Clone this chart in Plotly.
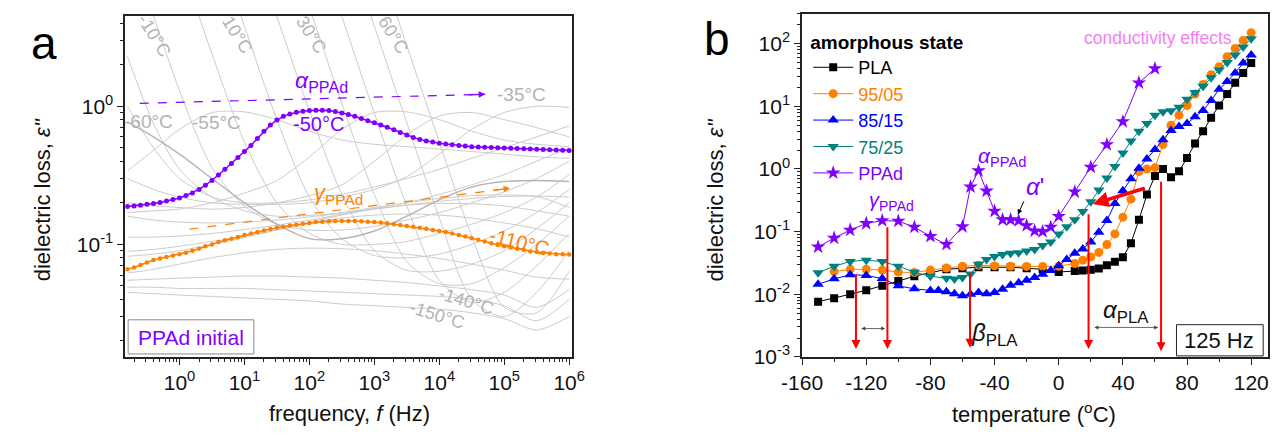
import math
import plotly.graph_objects as go

# ---------------- panel a data ----------------
freq = [0.158, 0.2, 0.251, 0.316, 0.398, 0.501, 0.631, 0.794,
        1, 1.26, 1.58, 2, 2.51, 3.16, 3.98, 5.01, 6.31, 7.94,
        10, 12.6, 15.8, 20, 25.1, 31.6, 39.8, 50.1, 63.1, 79.4,
        100, 126, 158, 200, 251, 316, 398, 501, 631, 794,
        1e3, 1.26e3, 1.58e3, 2e3, 2.51e3, 3.16e3, 3.98e3, 5.01e3, 6.31e3, 7.94e3,
        1e4, 1.26e4, 1.58e4, 2e4, 2.51e4, 3.16e4, 3.98e4, 5.01e4, 6.31e4, 7.94e4,
        1e5, 1.26e5, 1.58e5, 2e5, 2.51e5, 3.16e5, 3.98e5, 5.01e5, 6.31e5, 7.94e5,
        1e6]
eps_m50 = [0.188, 0.19, 0.192, 0.195, 0.198, 0.201, 0.206, 0.211,
           0.217, 0.226, 0.236, 0.25, 0.268, 0.29, 0.318, 0.35, 0.385, 0.425,
           0.47, 0.52, 0.585, 0.66, 0.73, 0.795, 0.845, 0.88, 0.905, 0.92,
           0.93, 0.935, 0.935, 0.93, 0.915, 0.895, 0.87, 0.845, 0.815, 0.785,
           0.76, 0.73, 0.705, 0.675, 0.645, 0.62, 0.595, 0.575, 0.56, 0.55,
           0.54, 0.533, 0.527, 0.52, 0.515, 0.51, 0.507, 0.504, 0.502, 0.5,
           0.498, 0.496, 0.494, 0.492, 0.49, 0.488, 0.486, 0.484, 0.482, 0.48,
           0.478]
eps_m110 = [0.066, 0.068, 0.071, 0.074, 0.077, 0.079, 0.081, 0.083,
            0.085, 0.087, 0.09, 0.093, 0.097, 0.1, 0.104, 0.107, 0.11, 0.113,
            0.117, 0.12, 0.123, 0.126, 0.129, 0.132, 0.134, 0.137, 0.139, 0.141,
            0.143, 0.145, 0.146, 0.147, 0.148, 0.148, 0.148, 0.148, 0.147, 0.146,
            0.145, 0.144, 0.142, 0.14, 0.138, 0.136, 0.134, 0.132, 0.13, 0.127,
            0.125, 0.123, 0.12, 0.117, 0.114, 0.111, 0.108, 0.105, 0.102, 0.099,
            0.097, 0.095, 0.093, 0.091, 0.089, 0.088, 0.087, 0.086, 0.085, 0.0848,
            0.0845]

# background (grey) isotherms, coarse frequency grid
gray_f = [0.158, 0.398, 1, 3.16, 10, 31.6, 100, 316, 1e3, 3.16e3, 1e4, 3.16e4, 1e5, 3.16e5, 1e6]
g_m150 = [0.045, 0.044, 0.043, 0.042, 0.041, 0.040, 0.039, 0.037, 0.036, 0.035, 0.034, 0.032, 0.029, 0.024, 0.03]
g_m140 = [0.049, 0.049, 0.048, 0.048, 0.048, 0.047, 0.046, 0.045, 0.044, 0.043, 0.042, 0.04, 0.036, 0.028, 0.04]
g_m130 = [0.055, 0.056, 0.057, 0.058, 0.059, 0.059, 0.058, 0.057, 0.055, 0.053, 0.05, 0.047, 0.043, 0.035, 0.047]
g_m120 = [0.062, 0.066, 0.072, 0.08, 0.087, 0.092, 0.094, 0.093, 0.09, 0.085, 0.079, 0.072, 0.065, 0.058, 0.056]
g_m100 = [0.082, 0.085, 0.09, 0.1, 0.112, 0.127, 0.142, 0.155, 0.163, 0.166, 0.163, 0.155, 0.143, 0.13, 0.113]
g_m90 = [0.089, 0.092, 0.097, 0.105, 0.115, 0.128, 0.145, 0.163, 0.18, 0.192, 0.198, 0.197, 0.19, 0.175, 0.16]
g_m80 = [0.113, 0.113, 0.115, 0.12, 0.128, 0.138, 0.15, 0.165, 0.182, 0.2, 0.215, 0.225, 0.228, 0.222, 0.185]
g_m70 = [0.16, 0.15, 0.145, 0.143, 0.145, 0.15, 0.158, 0.168, 0.18, 0.193, 0.205, 0.215, 0.222, 0.224, 0.22]
g_m60 = [0.77, 0.6, 0.45, 0.3, 0.2, 0.14, 0.11, 0.11, 0.125, 0.16, 0.21, 0.26, 0.285, 0.29, 0.285]
g_m55 = [0.34, 0.48, 0.68, 0.9, 0.91, 0.8, 0.66, 0.57, 0.53, 0.51, 0.49, 0.47, 0.45, 0.43, 0.42]
g_m45 = [0.17, 0.175, 0.18, 0.2, 0.235, 0.29, 0.43, 0.68, 0.9, 0.91, 0.8, 0.66, 0.57, 0.53, 0.51]
g_m40 = [0.2, 0.19, 0.185, 0.18, 0.185, 0.2, 0.225, 0.27, 0.4, 0.62, 0.85, 0.9, 0.8, 0.7, 0.6]
g_m35 = [0.3, 0.25, 0.22, 0.2, 0.195, 0.195, 0.2, 0.22, 0.25, 0.31, 0.45, 0.68, 0.9, 1.0, 0.98]
g_m30 = [1.0, 0.5, 0.3, 0.22, 0.2, 0.2, 0.21, 0.23, 0.26, 0.3, 0.35, 0.42, 0.5, 0.6, 0.72]
g_m20 = [2.3, 0.75, 0.35, 0.22, 0.175, 0.16, 0.162, 0.17, 0.185, 0.2, 0.23, 0.27, 0.32, 0.4, 0.5]
g_m10 = [16, 4.5, 1.3, 0.36, 0.19, 0.14, 0.127, 0.127, 0.135, 0.15, 0.17, 0.2, 0.24, 0.3, 0.4]
g_p0 = [155, 43, 11.7, 2.4, 0.55, 0.2, 0.12, 0.1, 0.1, 0.105, 0.12, 0.14, 0.17, 0.22, 0.32]
g_p10 = [1260, 347, 95, 19, 3.8, 0.8, 0.22, 0.11, 0.083, 0.08, 0.085, 0.1, 0.125, 0.17, 0.25]
g_p20 = [7400, 2000, 560, 112, 22.4, 4.47, 0.93, 0.23, 0.09, 0.065, 0.064, 0.072, 0.09, 0.13, 0.2]
g_p30 = [4.4e4, 1.2e4, 3300, 660, 132, 26, 5.2, 1.05, 0.23, 0.075, 0.052, 0.052, 0.068, 0.1, 0.16]
g_p40 = [1.9e5, 5.1e4, 1.4e4, 2800, 560, 112, 22, 4.47, 0.89, 0.19, 0.055, 0.038, 0.045, 0.07, 0.12]
g_p50 = [7.9e5, 2.2e5, 6e4, 1.2e4, 2400, 480, 95, 19, 3.8, 0.76, 0.156, 0.04, 0.03, 0.045, 0.09]
g_p60 = [2.9e6, 7.9e5, 2.2e5, 4.4e4, 8.7e3, 1.7e3, 350, 69, 13.8, 2.75, 0.55, 0.115, 0.035, 0.032, 0.064]

# ---------------- panel b data ----------------
T_PLA = [-150, -140, -130, -120, -110, -100, -90, -80, -70, -60, -50, -40, -30, -20, -10, 0,
         10, 15, 20, 25, 30, 35, 40, 45, 50, 55, 60, 65, 70, 75, 80, 85, 90, 95, 100, 105, 110, 115, 120]
e_PLA = [0.0076, 0.0086, 0.0100, 0.0116, 0.0136, 0.0162, 0.0194, 0.022, 0.025, 0.026, 0.027, 0.027,
         0.027, 0.026, 0.025, 0.0226,
         0.0235, 0.024, 0.0245, 0.0258, 0.029, 0.033, 0.039, 0.065, 0.155, 0.39, 0.77, 1.0, 0.74, 0.92,
         1.5, 2.55, 4.0, 6.6, 10.3, 15.7, 23.8, 34, 49]
T_9505 = [-140, -130, -120, -110, -100, -90, -80, -70, -60, -50, -40, -30, -20, -10, 0,
          10, 15, 20, 25, 30, 35, 40, 45, 50, 55, 60, 65, 70, 75, 80, 85, 90, 95, 100, 105, 110, 115, 120]
e_9505 = [0.023, 0.025, 0.025, 0.0243, 0.0226, 0.0222, 0.0243, 0.0262, 0.028, 0.0289, 0.0283, 0.028,
          0.0278, 0.0278, 0.028,
          0.031, 0.035, 0.0394, 0.0465, 0.062, 0.092, 0.17, 0.33, 0.91, 1.0, 1.05, 2.45, 5.0, 7.2, 10.3,
          15.7, 22.4, 32, 43, 62, 84, 113, 150]
T_8515 = [-150, -140, -130, -120, -110, -100, -90, -80,
          -75, -70, -65, -60, -55, -50, -45, -40, -35, -30, -25, -20, -15, -10, -5, 0, 5, 10, 15, 20,
          25, 30, 35, 40, 45, 50, 55, 60, 65, 70, 75, 80, 85, 90, 95, 100, 105, 110, 115, 120]
e_8515 = [0.0144, 0.0176, 0.0205, 0.02, 0.0178, 0.0136, 0.0122, 0.0115,
          0.0115, 0.011, 0.0102, 0.0095, 0.01, 0.0107, 0.0102, 0.0107, 0.012, 0.0139,
          0.0152, 0.0168, 0.0185, 0.0208, 0.024, 0.0284, 0.036, 0.045, 0.053, 0.068,
          0.098, 0.15, 0.28, 0.45, 0.7, 1.03, 1.44, 2.05, 2.94, 4.1,
          4.75, 5.3, 6.8, 8.6, 12.4, 18.7, 25, 34, 49, 66]
T_7525 = [-150, -140, -130, -120, -110, -100, -90, -80, -70,
          -65, -60, -55, -50, -45, -40, -35, -30, -25, -20, -15, -10, -5, 0, 5, 10, 15, 20, 25, 30,
          35, 40, 45, 50, 55, 60, 65, 70, 75, 80, 85, 90, 95, 100, 105, 110, 115, 120]
e_7525 = [0.022, 0.028, 0.0333, 0.035, 0.0333, 0.028, 0.0225, 0.0194, 0.018,
          0.0175, 0.0185, 0.021, 0.03, 0.036, 0.04, 0.043, 0.045, 0.046, 0.049,
          0.052, 0.06, 0.068, 0.092, 0.12, 0.155, 0.21, 0.3, 0.46, 0.72,
          1.1, 1.8, 2.8, 4.0, 5.3, 7.2, 8.2, 8.5, 9.7, 13,
          16.7, 21, 28.5, 38, 50, 66, 89, 120]
T_PPAd = [-150, -140, -130, -120, -110, -100, -90, -80, -70, -60, -55, -50, -45, -40, -35, -30,
          -25, -20, -15, -10, -5, 0, 10, 20, 30, 40, 50, 60]
e_PPAd = [0.057, 0.079, 0.106, 0.135, 0.15, 0.147, 0.118, 0.084, 0.0625, 0.12, 0.52, 0.94, 0.445,
          0.212, 0.155, 0.155, 0.15, 0.125, 0.103, 0.1, 0.118, 0.175, 0.43, 1.07, 2.45, 5.7, 23.8, 40]

W, H = 1282, 441
FONT = "Liberation Sans, Arial, sans-serif"
PURPLE = "#8000ff"
ORANGE = "#ff8000"
GREY = "#cbcbcb"
GLAB = "#b3b3b3"


def px(x):
    return x / W


def py(y):
    return 1 - y / H


fig = go.Figure()

gray_sets = [g_m150, g_m140, g_m130, g_m120, g_m100, g_m90, g_m80, g_m70, g_m55, g_m45, g_m40,
             g_m35, g_m30, g_m20, g_m10, g_p0, g_p10, g_p20, g_p30, g_p40, g_p50, g_p60]
for g in gray_sets:
    fig.add_trace(go.Scatter(x=gray_f, y=g, mode="lines", xaxis="x", yaxis="y",
                             line=dict(color=GREY, width=1, shape="spline", smoothing=0.8),
                             showlegend=False, hoverinfo="skip"))
fig.add_trace(go.Scatter(x=gray_f, y=g_m60, mode="lines", xaxis="x", yaxis="y",
                         line=dict(color="#b4b4b4", width=1.4, shape="spline", smoothing=0.8),
                         showlegend=False, hoverinfo="skip"))

# dashed guide arrows (panel a)
arrow_a_purple = ([0.245, 5.1e4], [1.05, 1.22])
arrow_a_orange = ([1.43, 1.23e5], [0.129, 0.255])
fig.add_trace(go.Scatter(x=arrow_a_purple[0], y=arrow_a_purple[1], mode="lines", xaxis="x", yaxis="y",
                         line=dict(color=PURPLE, width=1.2, dash="dash"), showlegend=False, hoverinfo="skip"))
fig.add_trace(go.Scatter(x=arrow_a_orange[0], y=arrow_a_orange[1], mode="lines", xaxis="x", yaxis="y",
                         line=dict(color=ORANGE, width=1.2, dash="dash"), showlegend=False, hoverinfo="skip"))

fig.add_trace(go.Scatter(x=freq, y=eps_m50, mode="lines+markers", xaxis="x", yaxis="y",
                         line=dict(color=PURPLE, width=1.5), marker=dict(color=PURPLE, size=5),
                         showlegend=False))
fig.add_trace(go.Scatter(x=freq, y=eps_m110, mode="lines+markers", xaxis="x", yaxis="y",
                         line=dict(color=ORANGE, width=1.5), marker=dict(color=ORANGE, size=4.5),
                         showlegend=False))

# panel b series
series_b = [
    (T_PLA, e_PLA, "PLA", "#000000", "square", 8),
    (T_9505, e_9505, "95/05", ORANGE, "circle", 9),
    (T_8515, e_8515, "85/15", "#0000ff", "triangle-up", 10),
    (T_7525, e_7525, "75/25", "#008080", "triangle-down", 10),
    (T_PPAd, e_PPAd, "PPAd", PURPLE, "star", 11),
]
for T, e, name, col, sym, sz in series_b:
    fig.add_trace(go.Scatter(x=T, y=e, mode="lines+markers", xaxis="x2", yaxis="y2",
                             name=f"<span style='color:{col}'>{name}</span>",
                             line=dict(color=col, width=1),
                             marker=dict(color=col, symbol=sym, size=sz, line=dict(width=0))))

# ---------------- axes ----------------
axis_common = dict(showline=True, linecolor="#222", linewidth=1.5, mirror=True, ticks="outside",
                   ticklen=6, tickwidth=1.3, tickcolor="#222", showgrid=False, zeroline=False,
                   tickfont=dict(family=FONT, size=21, color="#111"))

a_x_major = [1, 10, 100, 1e3, 1e4, 1e5, 1e6]
a_x_text = [f"10<sup>{k}</sup>" for k in range(0, 7)]
a_x_minor = [d * 10 ** k for k in range(-1, 6) for d in range(2, 10) if 0.146 <= d * 10 ** k <= 1.1e6]
a_y_major = [0.1, 1]
a_y_text = ["10<sup>-1</sup>", "10<sup>0</sup>"]
a_y_minor = [d * 10 ** k for k in (-2, -1, 0) for d in range(2, 10) if 0.0154 <= d * 10 ** k <= 4.4]
b_x_major = [-160, -120, -80, -40, 0, 40, 80, 120]
b_x_text = [str(v) for v in b_x_major]
b_y_major = [1e-3, 1e-2, 1e-1, 1, 10, 100]
b_y_text = [f"10<sup>{k}</sup>" for k in range(-3, 3)]
b_y_minor = [d * 10 ** k for k in range(-3, 3) for d in range(2, 10) if d * 10 ** k <= 300]

minor_style = dict(ticks="outside", ticklen=3, tickwidth=1, tickcolor="#222", showgrid=False)

fig.update_layout(
    width=W, height=H, margin=dict(l=0, r=0, t=0, b=0),
    paper_bgcolor="white", plot_bgcolor="white",
    font=dict(family=FONT, color="#111"),
    xaxis=dict(type="log", range=[-0.835, 6.05], domain=[px(107), px(566)], anchor="y",
               tickvals=a_x_major, ticktext=a_x_text,
               minor=dict(tickvals=a_x_minor, **minor_style), **axis_common),
    yaxis=dict(type="log", range=[-1.814, 0.656], domain=[py(366), py(16)], anchor="x",
               tickvals=a_y_major, ticktext=a_y_text,
               minor=dict(tickvals=a_y_minor, **minor_style), **axis_common),
    xaxis2=dict(range=[-160, 130.5], domain=[px(801.7), px(1280)], anchor="y2",
                tickvals=b_x_major, ticktext=b_x_text,
                minor=dict(tickvals=[-140, -100, -60, -20, 20, 60, 100], **minor_style), **axis_common),
    yaxis2=dict(type="log", range=[-3, 2.48], domain=[py(366), py(14)], anchor="x2",
                tickvals=b_y_major, ticktext=b_y_text,
                minor=dict(tickvals=b_y_minor, **minor_style), **axis_common),
    legend=dict(x=px(808), y=py(25), xanchor="left", yanchor="top", bgcolor="rgba(0,0,0,0)",
                font=dict(family=FONT, size=18), tracegroupgap=0, itemwidth=40,
                title=dict(text="<b>amorphous state</b>", font=dict(family=FONT, size=19, color="#000"))),
)

ann = []


def label(x, y, text, size, color, angle=0, **kw):
    ann.append(dict(x=px(x), y=py(y), xref="paper", yref="paper", text=text, showarrow=False,
                    font=dict(family=FONT, size=size, color=color), textangle=angle,
                    xanchor="center", yanchor="middle", **kw))


# panel a labels
label(24, 44, "a", 46, "#000")
label(714, 40, "b", 46, "#000")
label(137, 37, "-10°C", 18, GLAB, 58)
label(222, 36, "10°C", 18, GLAB, 58)
label(298, 36, "30°C", 18, GLAB, 58)
label(382, 36, "60°C", 18, GLAB, 58)
label(131, 125, "-60°C", 19, GLAB)
label(201, 126, "-55°C", 19, GLAB)
label(514, 97, "-35°C", 19, GLAB)
label(457, 309, "-140°C", 18, GLAB, 17)
label(427, 323, "-150°C", 18, GLAB, 17)
label(305, 127, "-50°C", 20, PURPLE)
label(512, 248, "-110°C", 20, ORANGE, 14)
label(308, 84, "<i>α</i><sub>PPAd</sub>", 23, PURPLE)
label(326, 199, "<i>γ</i><sub>PPAd</sub>", 22, ORANGE)
label(174, 346, "PPAd initial", 21, PURPLE)
label(337, 424, "frequency, <i>f</i> (Hz)", 22, "#111")
label(22, 205, "dielectric loss, <i>ε''</i>", 22, "#111", -90)

# panel b labels
label(1040, 424, "temperature (<sup>o</sup>C)", 22, "#111")
label(713, 205, "dielectric loss, <i>ε''</i>", 22, "#111", -90)
label(1167, 39, "conductivity effects", 17.5, "#f27ff2")
label(893, 207, "<i>γ</i><sub>PPAd</sub>", 20, PURPLE)
label(1007, 161, "<i>α</i><sub>PPAd</sub>", 21, PURPLE)
label(1041, 191, "<i>α</i>'", 24, PURPLE)
label(999, 343, "<i>β</i><sub>PLA</sub>", 24, "#111")
label(1134, 319, "<i>α</i><sub>PLA</sub>", 24, "#111")
label(1230, 349, "125 Hz", 22, "#111")

L = math.log10
# arrowheads on dashed guides (panel a)
ann.append(dict(x=L(arrow_a_purple[0][1]), y=L(arrow_a_purple[1][1]), xref="x", yref="y", ax=-18, ay=0.5,
                showarrow=True, arrowhead=2, arrowsize=1, arrowwidth=1.3, arrowcolor=PURPLE, text=""))
ann.append(dict(x=L(arrow_a_orange[0][1]), y=L(arrow_a_orange[1][1]), xref="x", yref="y", ax=-18, ay=2.3,
                showarrow=True, arrowhead=2, arrowsize=1, arrowwidth=1.3, arrowcolor=ORANGE, text=""))

# red relaxation markers in panel b: (T, top eps, bottom eps)
relax_T = [-126.4, -106.8, -55.3, 18.6, 63.8]
relax_top = [0.0219, 0.124, 0.0232, 0.2, 0.66]
relax_bot = [0.00133, 0.00133, 0.0014, 0.00133, 0.00123]
for T, top, bot in zip(relax_T, relax_top, relax_bot):
    ann.append(dict(x=T, y=L(bot), ax=T, ay=L(top), xref="x2", yref="y2", axref="x2", ayref="y2",
                    showarrow=True, arrowhead=2, arrowsize=0.9, arrowwidth=2, arrowcolor="#ff0000", text=""))
# thick red arrow
ann.append(dict(x=21.3, y=L(0.276), ax=54.6, ay=L(0.5), xref="x2", yref="y2", axref="x2", ayref="y2",
                showarrow=True, arrowhead=2, arrowsize=0.9, arrowwidth=3.5, arrowcolor="#ff0000", text=""))
# alpha' pointer
ann.append(dict(x=-25.5, y=-0.726, ax=-21.3, ay=-0.492, xref="x2", yref="y2", axref="x2", ayref="y2",
                showarrow=True, arrowhead=2, arrowsize=1, arrowwidth=1, arrowcolor="#000", text=""))
# double-headed range arrows
for x0, x1, yy in [(-124, -108.2, -2.548), (21.3, 62, -2.53)]:
    ann.append(dict(x=x1, y=yy, ax=x0, ay=yy, xref="x2", yref="y2", axref="x2", ayref="y2",
                    showarrow=True, arrowhead=2, startarrowhead=2, arrowside="end+start",
                    arrowsize=1, arrowwidth=0.8, arrowcolor="#444", text=""))

fig.update_layout(annotations=ann)

fig.update_layout(shapes=[
    dict(type="rect", xref="paper", yref="paper", x0=px(110), x1=px(239), y0=py(363), y1=py(328),
         line=dict(color="#8a8a8a", width=1), fillcolor="white", layer="above"),
    dict(type="rect", xref="paper", yref="paper", x0=px(1186), x1=px(1275), y0=py(365), y1=py(333),
         line=dict(color="#222", width=1), fillcolor="white", layer="above"),
])

fig.write_html("out.html", post_script="document.body.style.margin='0px';")
